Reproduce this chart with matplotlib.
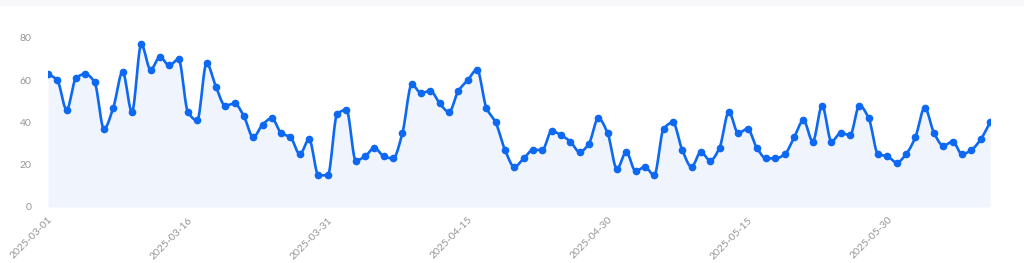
import numpy as np
import pandas as pd
import matplotlib
matplotlib.use("Agg")
import matplotlib.pyplot as plt
import matplotlib.dates as mdates

# daily values, 2025-03-01 .. 2025-06-10
start_date = "2025-03-01"
values = [
    63, 60, 46, 61, 63, 59, 37, 47, 64, 45,
    77, 65, 71, 67, 70, 45, 41, 68, 57, 48,
    49, 43, 33, 39, 42, 35, 33, 25, 32, 15,
    15, 44, 46, 22, 24, 28, 24, 23, 35, 58,
    54, 55, 49, 45, 55, 60, 65, 47, 40, 27,
    19, 23, 27, 27, 36, 34, 31, 26, 30, 42,
    35, 18, 26, 17, 19, 15, 37, 40, 27, 19,
    26, 22, 28, 45, 35, 37, 28, 23, 23, 25,
    33, 41, 31, 48, 31, 35, 34, 48, 42, 25,
    24, 21, 25, 33, 47, 35, 29, 31, 25, 27,
    32, 40,
]
tick_labels = ["2025-03-01", "2025-03-16", "2025-03-31", "2025-04-15",
               "2025-04-30", "2025-05-15", "2025-05-30"]
y_ticks = [0, 20, 40, 60, 80]

dates = pd.date_range(start_date, periods=len(values), freq="D")
x = mdates.date2num(dates)
y = np.array(values, dtype=float)


def monotone_curve(x, y, n=12):
    # monotone cubic interpolation, only used to draw the smooth line
    h = np.diff(x)
    d = np.diff(y) / h
    m = np.zeros_like(y)
    m[0], m[-1] = d[0], d[-1]
    for i in range(1, len(y) - 1):
        if d[i - 1] * d[i] > 0:
            m[i] = 2 * d[i - 1] * d[i] / (d[i - 1] + d[i])
    xs, ys = [], []
    t = np.linspace(0, 1, n, endpoint=False)
    h00 = 2 * t**3 - 3 * t**2 + 1
    h10 = t**3 - 2 * t**2 + t
    h01 = -2 * t**3 + 3 * t**2
    h11 = t**3 - t**2
    for i in range(len(h)):
        xs.append(x[i] + t * h[i])
        ys.append(h00 * y[i] + h10 * h[i] * m[i] + h01 * y[i + 1] + h11 * h[i] * m[i + 1])
    xs.append([x[-1]])
    ys.append([y[-1]])
    return np.concatenate(xs), np.concatenate(ys)


xs, ys = monotone_curve(x, y)

fig = plt.figure(figsize=(10.24, 2.63), dpi=100)
fig.patch.set_facecolor("white")
# faint band along the top edge
fig.patches.append(plt.Rectangle((0, 1 - 5 / 263), 1, 5 / 263, transform=fig.transFigure,
                                 color="#f7f7fa", zorder=0))

ax = fig.add_axes([48 / 1024, 56 / 263, (990 - 48) / 1024, (207 - 38) / 263])
line_color = "#0d68f2"

ax.fill_between(xs, ys, 0, color="#eaf0fd", alpha=0.7, linewidth=0)
ax.plot(xs, ys, color=line_color, linewidth=1.9, solid_capstyle="round")
ax.plot(x, y, "o", color=line_color, markersize=4.5)

ax.set_xlim(x[0], x[-1])
ax.set_ylim(0, 80)
ax.set_yticks(y_ticks)
ax.set_yticklabels([str(v) for v in y_ticks])
ax.set_xticks(mdates.date2num(pd.to_datetime(tick_labels)))
ax.set_xticklabels(tick_labels, rotation=45, ha="right", rotation_mode="anchor")

for s in ax.spines.values():
    s.set_visible(False)
ax.tick_params(length=0, labelsize=7.5, labelcolor="#959595")
ax.tick_params(axis="y", pad=12)
ax.tick_params(axis="x", pad=6)
for lab in ax.get_xticklabels() + ax.get_yticklabels():
    lab.set_family(["Lato", "DejaVu Sans"])
ax.set_facecolor("none")

fig.savefig("out.png", dpi=100)
